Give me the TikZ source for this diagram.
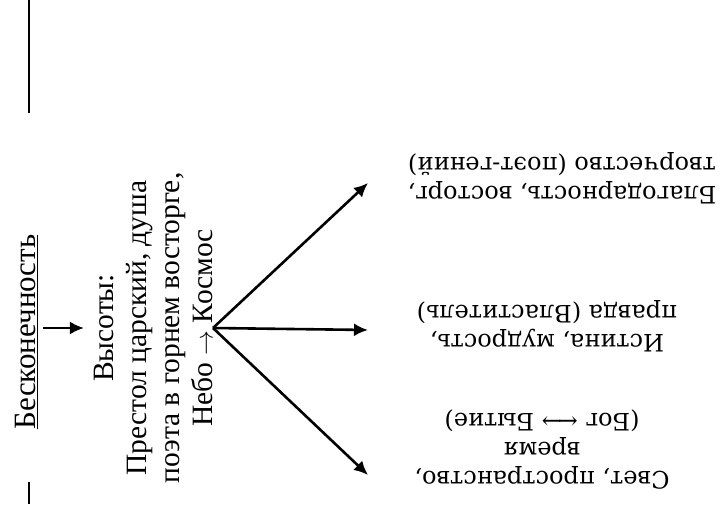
\documentclass[tikz,border=0pt]{standalone}
\usepackage{fontspec}
\setmainfont{Liberation Serif}
\newfontfamily\serifwide{DejaVu Serif}
\usetikzlibrary{arrows.meta}

\begin{document}
\begin{tikzpicture}[x=1pt,y=1pt,
    every node/.style={inner sep=0pt},
    up/.style={rotate=90,align=center,font=\fontsize{29.5}{33}\selectfont},
    down/.style={rotate=180,align=center,font=\serifwide\fontsize{24}{29}\selectfont},
    arr/.style={-{Latex[length=14pt,width=13pt]},line width=2.6pt}]
    \useasboundingbox (0,0) rectangle (726,504);
    \draw[line width=2.6pt] (29,504) -- (29,391);
    \draw[line width=2.6pt] (29,22) -- (29,0);
    \node[up,anchor=south,font=\fontsize{31}{33}\selectfont] (inf) at (38,172) {\underline{Бесконечность}};
    \node[up,anchor=south] (heights) at (213,176) {Высоты:\\Престол царский, душа\\поэта в горнем восторге,\\Небо $\rightarrow$ Космос};
    \coordinate (t1) at (368,321);
    \coordinate (t2) at (368,174);
    \coordinate (t3) at (368,29);
    \node[down] (thanks) at (562,326) {Благодарность, восторг,\\творчество (поэт-гений)};
    \node[down] (truth) at (547,178) {Истина, мудрость,\\правда (Властитель)};
    \node[down] (light) at (542,54) {Свет, пространство,\\время\\(Бог ←\kern-4pt→ Бытие)};
    \draw[arr,shorten <=5pt,shorten >=10pt] (inf.south |- heights.south) -- (heights.north);
    \draw[arr] (heights.south) -- (t1);
    \draw[arr] (heights.south) -- (t2);
    \draw[arr] (heights.south) -- (t3);
\end{tikzpicture}
\end{document}
